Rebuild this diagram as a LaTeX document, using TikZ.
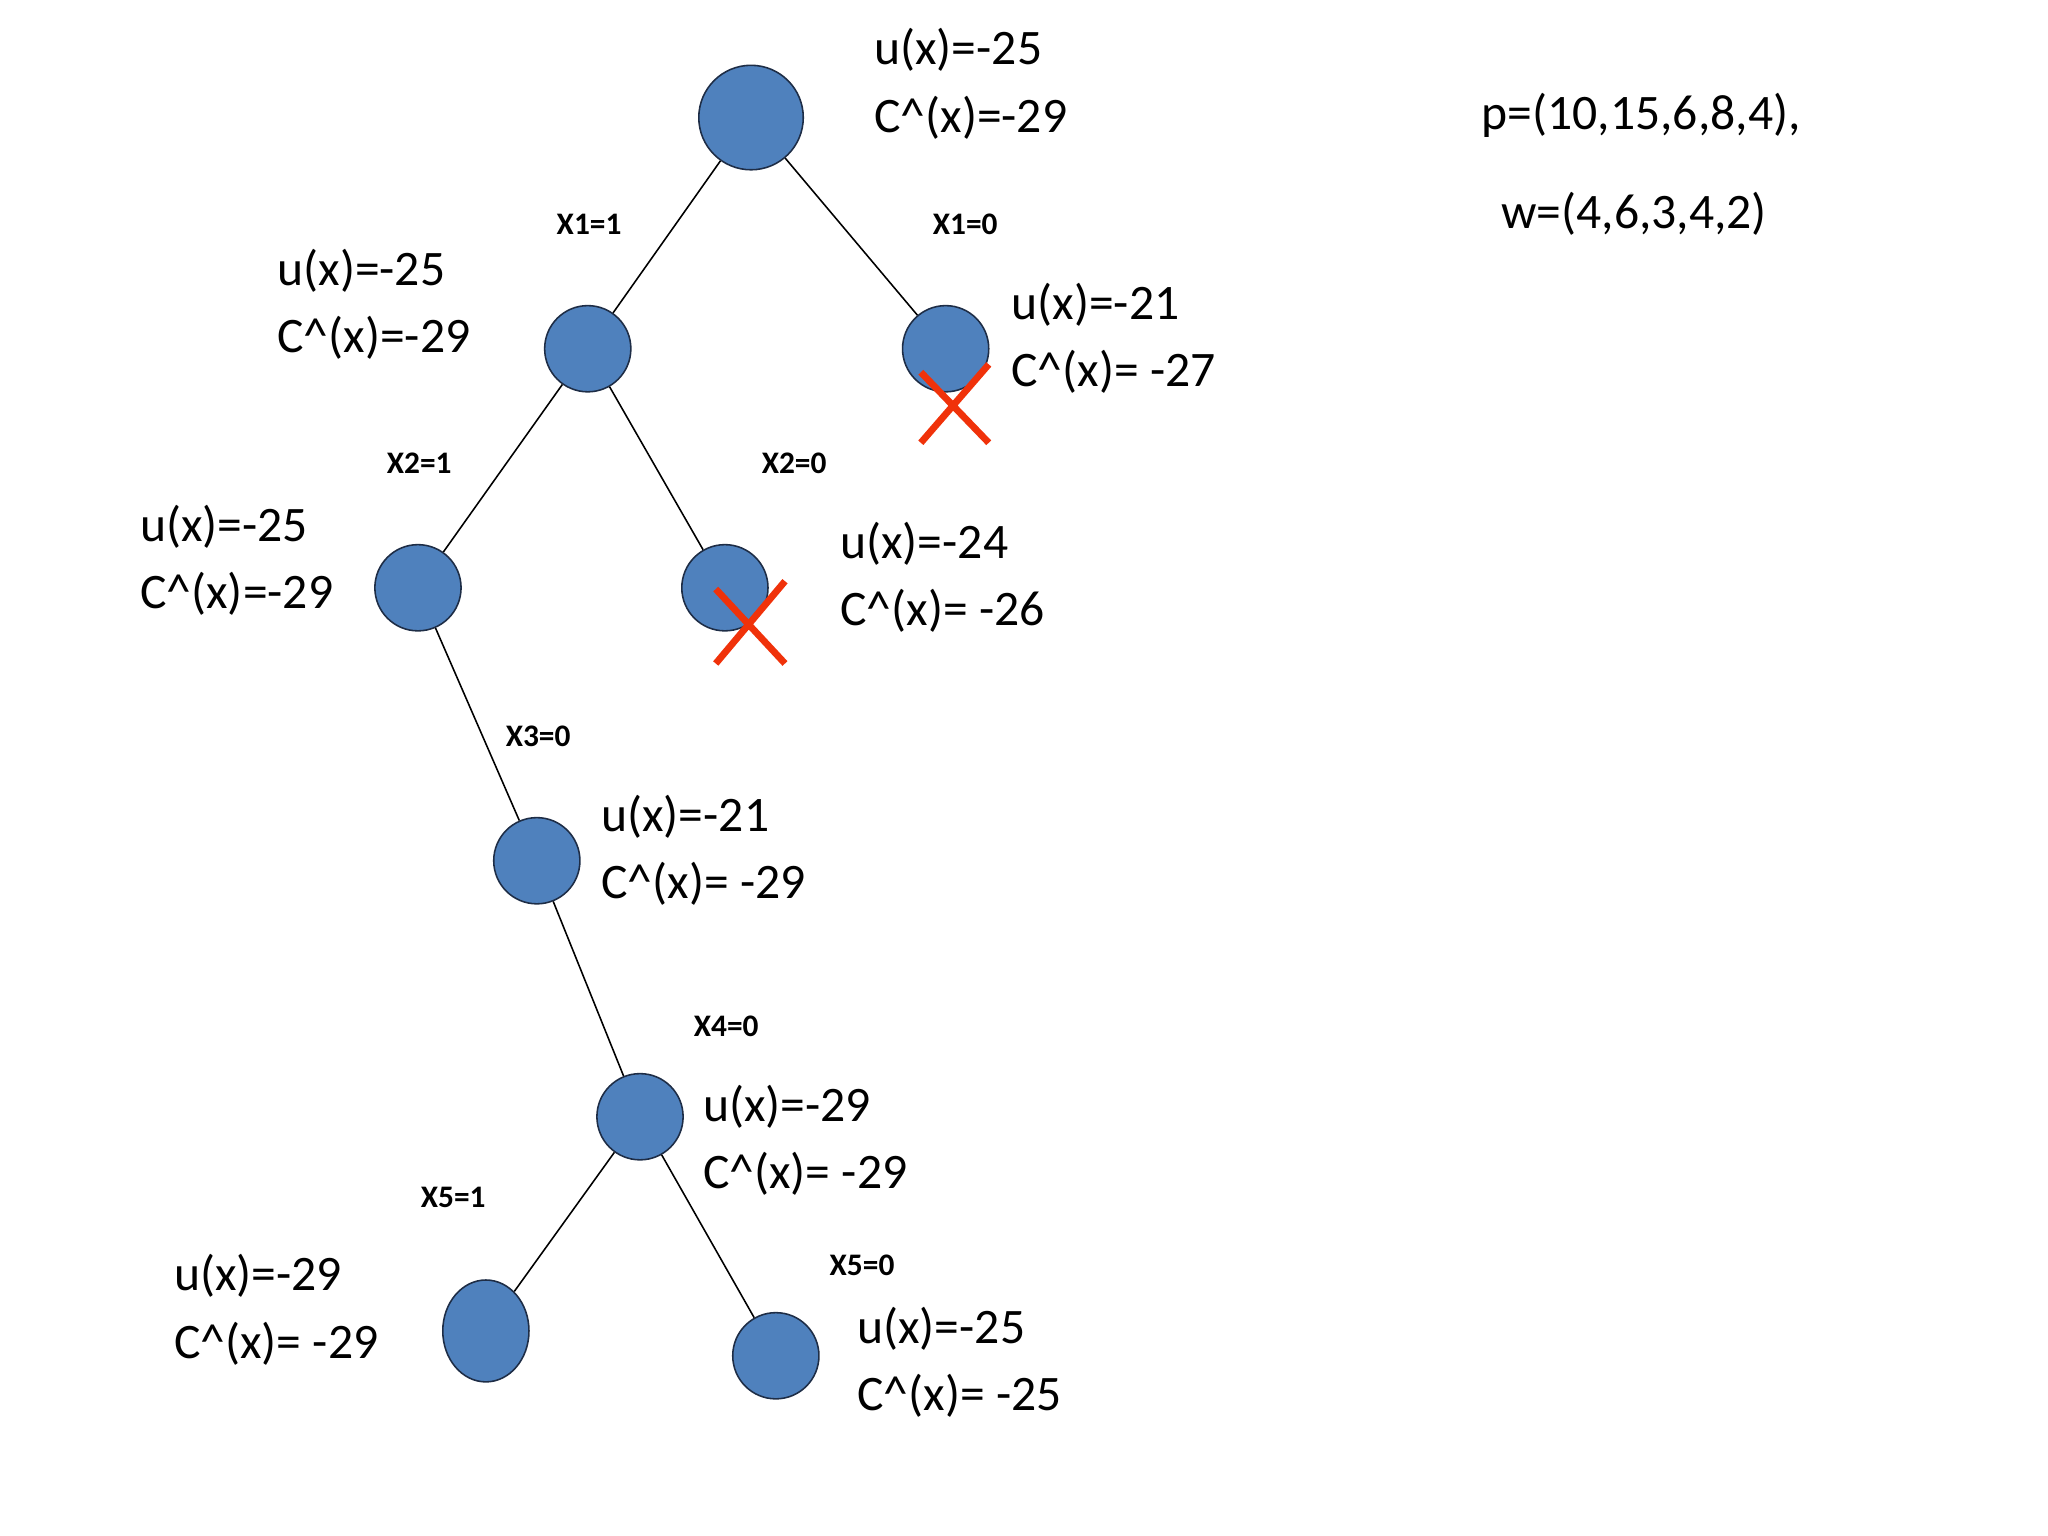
\documentclass[tikz,border=0pt]{standalone}
\usepackage{fontspec}
\usetikzlibrary{shapes.geometric}
\setmainfont{Carlito}
\begin{document}
\begin{tikzpicture}[x=0.5pt,y=-0.5pt,
  tn/.style={circle,fill={rgb,255:red,79;green,129;blue,189},draw={rgb,255:red,30;green,45;blue,70},line width=0.6pt,minimum size=33pt,inner sep=0pt},
  lab/.style={anchor=west,align=left,font=\fontsize{19}{26}\selectfont,inner sep=0pt},
  el/.style={font=\fontsize{12}{14}\selectfont\bfseries,inner sep=0pt},
  cross/.style={draw={rgb,255:red,240;green,50;blue,10},line width=2.6pt}]
\useasboundingbox (0,0) rectangle (1568,1176);
\fill[white] (0,0) rectangle (1568,1176);
\node[tn,minimum size=40pt] (r) at (575,90) {};
\node[tn] (a) at (450,267) {};
\node[tn] (b) at (724,267) {};
\node[tn] (c) at (320,450) {};
\node[tn] (d) at (555,450) {};
\node[tn] (e) at (411,659) {};
\node[tn] (f) at (490,855) {};
\node[tn,ellipse,minimum width=33pt,minimum height=39pt] (g) at (372,1019) {};
\node[tn] (h) at (594,1038) {};
\draw[line width=0.6pt] (r) -- (a) (r) -- (b) (a) -- (c) (a) -- (d) (c) -- (e) (e) -- (f) (f) -- (g) (f) -- (h);
\node[lab] (lr) at (669,64) {u(x)=-25\\C\^{}(x)=-29};
\node[lab] (la) at (212,233) {u(x)=-25\\C\^{}(x)=-29};
\node[lab] (lb) at (774,259) {u(x)=-21\\C\^{}(x)= -27};
\node[lab] (lc) at (107,429) {u(x)=-25\\C\^{}(x)=-29};
\node[lab] (ld) at (643,442) {u(x)=-24\\C\^{}(x)= -26};
\node[lab] (le) at (460,651) {u(x)=-21\\C\^{}(x)= -29};
\node[lab] (lf) at (538,873) {u(x)=-29\\C\^{}(x)= -29};
\node[lab] (lg) at (133,1003) {u(x)=-29\\C\^{}(x)= -29};
\node[lab] (lh) at (656,1043) {u(x)=-25\\C\^{}(x)= -25};
\node[lab] (p) at (1134,88) {p=(10,15,6,8,4),};
\node[lab] (w) at (1149,164) {w=(4,6,3,4,2)};
\node[el] (e1) at (451,172) {X1=1};
\node[el] (e2) at (739,172) {X1=0};
\node[el] (e3) at (321,355) {X2=1};
\node[el] (e4) at (608,355) {X2=0};
\node[el] (e5) at (412,564) {X3=0};
\node[el] (e6) at (556,786) {X4=0};
\node[el] (e7) at (347,917) {X5=1};
\node[el] (e8) at (660,969) {X5=0};
\draw[cross] (705,285) -- (757,339) (705,339) -- (757,279);
\draw[cross] (548,451) -- (601,508) (548,508) -- (601,445);
\end{tikzpicture}
\end{document}
